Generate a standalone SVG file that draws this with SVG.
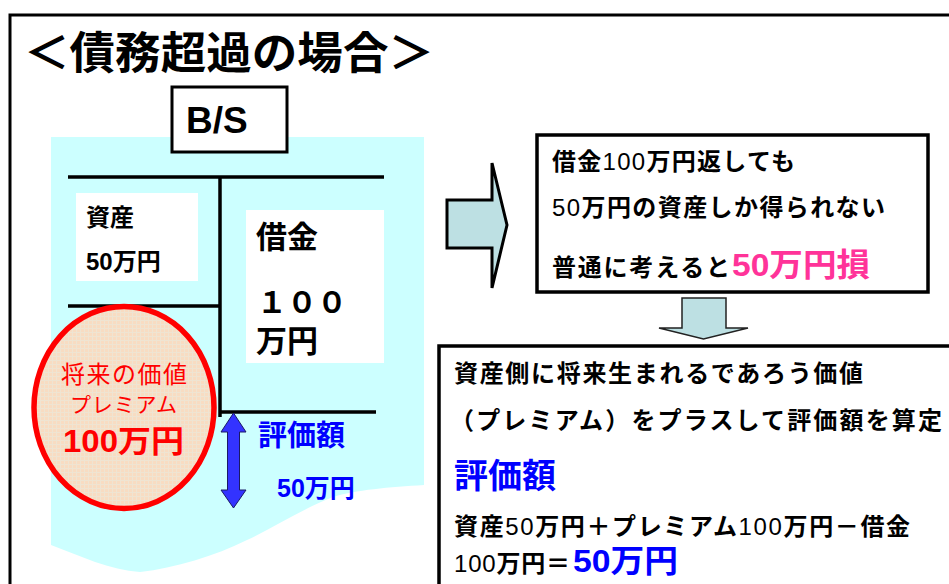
<svg xmlns="http://www.w3.org/2000/svg" width="949" height="584" viewBox="0 0 949 584">
<style>
text{font-family:"Liberation Sans","Noto Sans CJK JP",sans-serif;}
.b{font-weight:bold;}
.r{font-weight:normal;}
.red{fill:#FF0000;}
.blue{fill:#0000FF;}
.pink{fill:#FF3399;}
.box{fill:#fff;stroke:#000;stroke-width:3.5;}
.ln{stroke:#000;stroke-width:3.5;fill:none;}
</style>
<defs>
<pattern id="grid" width="4" height="4" patternUnits="userSpaceOnUse">
<rect width="4" height="4" fill="#F8DCC2"/>
<path d="M0,0.5H4M0.5,0V4" stroke="#EFE4D2" stroke-width="1"/>
</pattern>
</defs>
<rect width="949" height="584" fill="#fff"/>
<rect x="10" y="15" width="960" height="600" fill="none" stroke="#000" stroke-width="3"/>

<g id="title">
<text x="24" y="69" font-size="44" class="b" textLength="410" lengthAdjust="spacingAndGlyphs">＜債務超過の場合＞</text>
</g>

<g id="bs-chart">
<path d="M51,137H424V485C390,487 355,490 333,497C300,510 275,527 247,540C215,556 175,568 140,572C110,570 80,556 51,545Z" fill="#CCFFFF"/>
<line class="ln" x1="68" y1="177" x2="384" y2="177"/>
<line class="ln" x1="220" y1="177" x2="220" y2="417"/>
<line class="ln" x1="68" y1="306" x2="220" y2="306"/>
<line class="ln" x1="220" y1="412" x2="376" y2="412"/>
<g id="asset">
<rect x="76" y="193" width="122" height="88" fill="#fff"/>
<text x="86" y="226" font-size="24" class="b">資産</text>
<text x="86" y="270" font-size="24" class="b">50万円</text>
</g>
<g id="debt">
<rect x="246" y="210" width="138" height="153" fill="#fff"/>
<text x="256" y="248" font-size="31" class="b">借金</text>
<text x="257" y="313" font-size="30" class="b">１００</text>
<text x="256" y="352" font-size="31" class="b">万円</text>
</g>
</g>

<g id="bs-label">
<rect x="172" y="87" width="115" height="65" fill="#fff" stroke="#000" stroke-width="3"/>
<text x="186" y="133" font-size="37" class="b">B/S</text>
</g>

<g id="premium">
<ellipse cx="124" cy="407.5" rx="90" ry="101" fill="url(#grid)" stroke="#FF0000" stroke-width="5.5"/>
<text x="61" y="383" font-size="24" class="r red" textLength="126" lengthAdjust="spacing">将来の価値</text>
<text x="70" y="412" font-size="21" class="r red" textLength="107" lengthAdjust="spacing">プレミアム</text>
<text x="63" y="452" font-size="31" class="b red" textLength="121" lengthAdjust="spacingAndGlyphs">100万円</text>
</g>

<g id="valuation">
<text x="258" y="446" font-size="29" class="b blue">評価額</text>
<text x="277" y="497" font-size="25" class="b blue">50万円</text>
</g>

<g id="box1">
<rect class="box" x="537" y="135" width="391" height="157"/>
<text x="552" y="170" font-size="24" class="b" textLength="243" lengthAdjust="spacing">借金<tspan class="r">100</tspan>万円返しても</text>
<text x="552" y="216" font-size="24" class="b" textLength="333" lengthAdjust="spacing"><tspan class="r">50</tspan>万円の資産しか得られない</text>
<text x="552" y="276" font-size="24" class="b" textLength="178" lengthAdjust="spacing">普通に考えると</text>
<text x="732" y="276" font-size="32" class="b pink" textLength="138" lengthAdjust="spacingAndGlyphs">50万円損</text>
</g>

<g id="box2">
<rect class="box" x="439" y="346" width="530" height="260"/>
<text x="454" y="382" font-size="24" class="b" textLength="409" lengthAdjust="spacing">資産側に将来生まれるであろう価値</text>
<text x="450" y="429" font-size="24" class="b" textLength="492" lengthAdjust="spacing">（プレミアム）をプラスして評価額を算定</text>
<text x="454" y="488" font-size="34" class="b blue" textLength="102" lengthAdjust="spacingAndGlyphs">評価額</text>
<text x="454" y="535" font-size="24" class="b" textLength="456" lengthAdjust="spacing">資産<tspan class="r">50</tspan>万円＋プレミアム<tspan class="r">100</tspan>万円－借金</text>
<text x="454" y="572" font-size="24" class="b" textLength="116" lengthAdjust="spacing"><tspan class="r">100</tspan>万円＝</text>
<text x="573" y="572" font-size="32" class="b blue" textLength="105" lengthAdjust="spacingAndGlyphs">50万円</text>
</g>

<g id="connectors">
<path d="M447,200H492V163L507,225L492,288V248H447Z" fill="#BDE0E3" stroke="#000" stroke-width="3" stroke-linejoin="miter"/>
<path d="M682,298H726V328H748L703.5,339L659,328H682Z" fill="#BDE0E3" stroke="#222" stroke-width="1.5"/>
<path d="M233.5,413L246,432H239.5V490H246L233.5,508L221,490H227.5V432H221Z" fill="#3333FF" stroke="#1a1a66" stroke-width="1"/>
</g>
</svg>
